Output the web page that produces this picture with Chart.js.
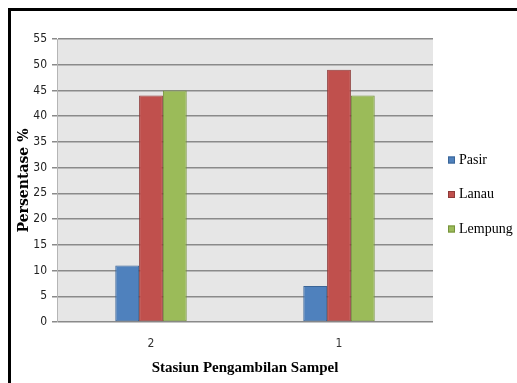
<!DOCTYPE html>
<html>
<head>
<meta charset="utf-8">
<script src="https://cdn.jsdelivr.net/npm/chart.js@4"></script>
<style>
  html, body { margin: 0; padding: 0; background: #fff; }
  #wrap { position: relative; width: 517px; height: 383px; overflow: hidden; }
  #frame { position: absolute; left: 8px; top: 8px; right: 0; bottom: 0;
           border-top: 3px solid #000; border-left: 3px solid #000; pointer-events: none; }
</style>
</head>
<body>
<div id="wrap">
  <canvas id="chart" width="517" height="383"></canvas>
  <div id="frame"></div>
</div>
<script>
// data
const stations = ["2", "1"];
const seriesNames = ["Pasir", "Lanau", "Lempung"];
const pasir = [11, 7];
const lanau = [44, 49];
const lempung = [45, 44];
const yTicks = [0, 5, 10, 15, 20, 25, 30, 35, 40, 45, 50, 55];

const fills = ["#4F81BD", "#C0504D", "#9BBB59"];
const edges = ["#3A6597", "#8E3B39", "#76923C"];
const tickFont = "'DejaVu Sans Condensed', 'Liberation Sans', sans-serif";

// grey plot area like the excel default
const plotBg = {
  id: "plotBg",
  beforeDraw(chart) {
    const { ctx, chartArea: a } = chart;
    ctx.save();
    ctx.fillStyle = "#E6E6E6";
    ctx.fillRect(a.left, a.top, a.right - a.left, a.bottom - a.top);
    ctx.restore();
  }
};

// legend on the right, drawn by hand so spacing matches
const sideLegend = {
  id: "sideLegend",
  afterDraw(chart) {
    const { ctx, chartArea: a } = chart;
    const mid = chart.height / 2 + 3;
    ctx.save();
    ctx.font = "14px 'Liberation Serif'";
    ctx.textBaseline = "middle";
    chart.data.datasets.forEach((ds, i) => {
      const y = mid + (i - 1) * 34.5;
      const x = a.right + 15;
      ctx.fillStyle = ds.backgroundColor;
      ctx.fillRect(x, y - 3.5, 7, 7);
      ctx.strokeStyle = ds.borderColor;
      ctx.lineWidth = 1;
      ctx.strokeRect(x + 0.5, y - 3, 6, 6);
      ctx.fillStyle = "#000";
      ctx.fillText(ds.label, x + 11, y);
    });
    ctx.restore();
  }
};

const values = [pasir, lanau, lempung];

new Chart(document.getElementById("chart"), {
  type: "bar",
  data: {
    labels: stations,
    datasets: seriesNames.map((name, i) => ({
      label: name,
      data: values[i],
      backgroundColor: fills[i],
      borderColor: edges[i],
      borderWidth: 1,
      borderSkipped: false,
      categoryPercentage: 0.38,
      barPercentage: 1
    }))
  },
  options: {
    responsive: false,
    devicePixelRatio: 1,
    animation: false,
    layout: { padding: { top: 39, right: 84, bottom: 0, left: 0 } },
    plugins: {
      legend: { display: false },
      tooltip: { enabled: false }
    },
    scales: {
      x: {
        grid: { display: false, drawTicks: false },
        border: { display: false },
        ticks: {
          padding: 15,
          color: "#333",
          font: { family: tickFont, size: 12 }
        },
        title: {
          display: true,
          text: "Stasiun Pengambilan Sampel",
          color: "#000",
          font: { family: "'Liberation Serif'", size: 15, weight: "bold" },
          padding: { top: 7, bottom: 6 }
        },
        afterFit(s) { s.height = 61; }
      },
      y: {
        min: 0,
        max: 55,
        afterBuildTicks(s) { s.ticks = yTicks.map(v => ({ value: v })); },
        grid: { color: "#8A8A8A", lineWidth: 1.5, tickLength: 5 },
        border: { display: true, color: "#B5B5B5", width: 1 },
        ticks: {
          padding: 5,
          color: "#222",
          font: { family: tickFont, size: 12 }
        },
        title: {
          display: true,
          text: "Persentase %",
          color: "#000",
          font: { family: "'DejaVu Serif'", size: 14, weight: "bold" },
          padding: { top: 16, bottom: 0 }
        },
        afterFit(s) { s.width = 57; }
      }
    }
  },
  plugins: [plotBg, sideLegend]
});
</script>
</body>
</html>
